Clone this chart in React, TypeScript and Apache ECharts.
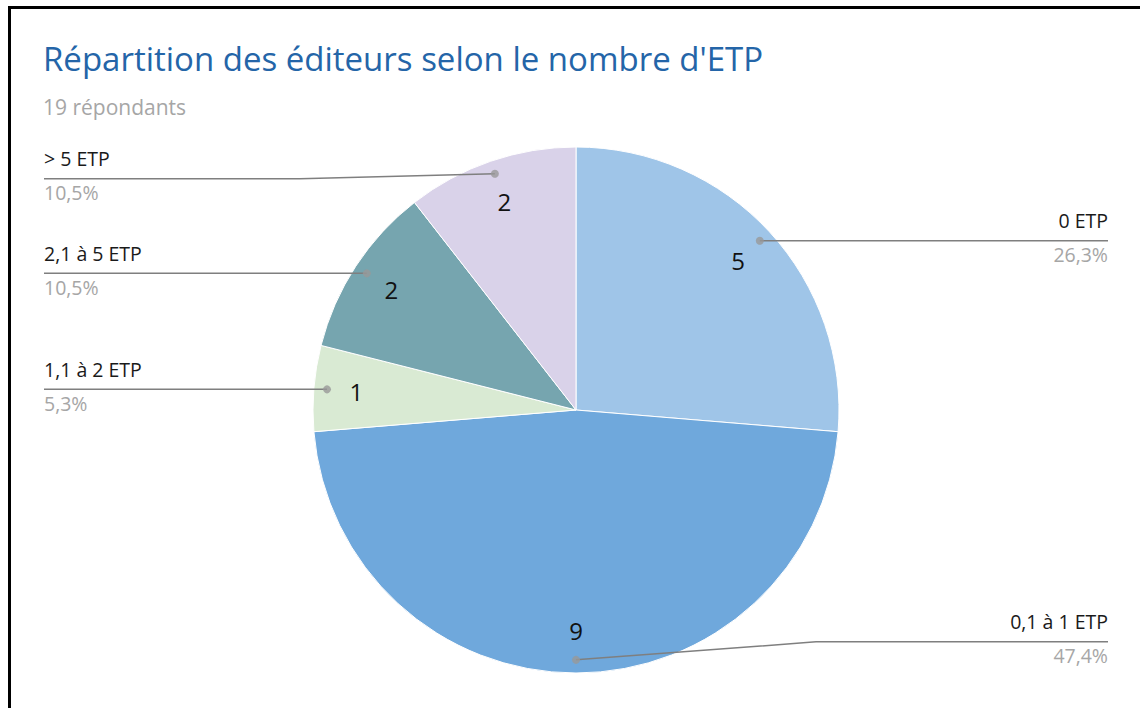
import React, { useEffect, useRef } from 'react';
import * as echarts from 'echarts';

const categories = ['0 ETP', '0,1 à 1 ETP', '1,1 à 2 ETP', '2,1 à 5 ETP', '> 5 ETP'];
const counts = [5, 9, 1, 2, 2];
const colors = ['#9FC5E8', '#6FA8DC', '#D9EAD3', '#76A5AF', '#D9D2E9'];
const titleText = "Répartition des éditeurs selon le nombre d'ETP";
const subtitleText = '19 répondants';

// leader-line placement tweaks (label layout only)
const leaderRise = [0, -18, 0, 0, 5];
const leaderRun = [0, 240, 0, 0, 195];

const W = 1140;
const H = 708;
const CX = 576;
const CY = 410;
const R = 263;
const DOT_RATIO = 0.95;
const LEFT_X = 44;
const RIGHT_X = 1108;
const FONT = "'Open Sans', sans-serif";

export default function App() {
  const ref = useRef<HTMLDivElement>(null);
  useEffect(() => {
    document.body.style.margin = '0';
    const chart = echarts.init(ref.current!, null, { renderer: 'svg' });
    const total = counts.reduce((a, b) => a + b, 0);
    const mids: number[] = [];
    let acc = 0;
    counts.forEach((v) => {
      mids.push(acc + v / 2);
      acc += v;
    });
    const data = categories.map((name, i) => ({ name, value: counts[i], itemStyle: { color: colors[i] } }));
    const ghostData = categories.map((name, i) => ({ name, value: counts[i] }));
    const fmtPct = (p: number) => p.toFixed(1).replace('.', ',') + '%';

    chart.setOption({
      animation: false,
      title: [
        {
          text: titleText,
          left: 38,
          top: 37,
          textStyle: { fontFamily: FONT, fontSize: 33, fontWeight: 'normal', color: '#2465A8' },
        },
        {
          text: subtitleText,
          left: 38,
          top: 91,
          textStyle: { fontFamily: FONT, fontSize: 21, fontWeight: 'normal', color: '#a6a6a6' },
        },
      ],
      graphic: {
        elements: [
          { type: 'rect', shape: { x: 8, y: 6, width: 1132, height: 3 }, style: { fill: '#000' }, silent: true },
          { type: 'rect', shape: { x: 8, y: 6, width: 3, height: 702 }, style: { fill: '#000' }, silent: true },
        ],
      },
      polar: { center: [CX, CY], radius: R },
      angleAxis: { type: 'value', min: 0, max: total, startAngle: 90, clockwise: true, show: false },
      radiusAxis: { type: 'value', min: 0, max: 1, show: false },
      series: [
        {
          type: 'pie',
          center: [CX, CY],
          radius: [0, R],
          startAngle: 90,
          clockwise: true,
          data,
          z: 2,
          silent: true,
          emphasis: { disabled: true },
          itemStyle: { borderColor: '#fff', borderWidth: 1 },
          label: { show: false },
          labelLine: { show: false },
        },
        {
          type: 'pie',
          center: [CX, CY],
          radius: [172, R],
          startAngle: 90,
          clockwise: true,
          silent: true,
          z: 3,
          data: ghostData,
          itemStyle: { color: 'rgba(0,0,0,0)' },
          label: { show: true, position: 'inside', formatter: '{c}', fontFamily: FONT, fontSize: 24, color: '#111' },
          labelLine: { show: false },
        },
        {
          type: 'pie',
          center: [CX, CY],
          radius: [0, R],
          startAngle: 90,
          clockwise: true,
          silent: true,
          z: 4,
          data: ghostData,
          avoidLabelOverlap: false,
          itemStyle: { color: 'rgba(0,0,0,0)' },
          label: {
            show: true,
            position: 'outside',
            fontFamily: FONT,
            padding: [0, 0, 2, 0],
            formatter: (p: any) => `{n|${p.name}}\n{p|${fmtPct(p.percent)}}`,
            rich: {
              n: { fontFamily: FONT, fontSize: 19.5, color: '#1a1a1a', lineHeight: 30 },
              p: { fontFamily: FONT, fontSize: 19.5, color: '#a6a6a6', lineHeight: 38 },
            },
          },
          labelLine: {
            show: true,
            showAbove: true,
            length: 5,
            length2: 5,
            lineStyle: { color: '#7f7f7f', width: 1.5 },
          },
          labelLayout: (p: any) => {
            const pts = p.labelLinePoints;
            if (!pts) return {};
            const s = pts[0];
            const i = p.dataIndex;
            const sx = CX + (s[0] - CX) * DOT_RATIO;
            const sy = CY + (s[1] - CY) * DOT_RATIO;
            const right = sx >= CX - 1;
            const ly = sy + leaderRise[i];
            const ex = right ? RIGHT_X : LEFT_X;
            const kx = sx + (right ? 1 : -1) * leaderRun[i];
            return {
              x: ex,
              y: ly,
              align: right ? 'right' : 'left',
              verticalAlign: 'middle',
              labelLinePoints: [
                [sx, sy],
                [kx, ly],
                [ex, ly],
              ],
            };
          },
        },
        {
          type: 'scatter',
          coordinateSystem: 'polar',
          data: mids.map((m) => [DOT_RATIO, m]),
          symbolSize: 8,
          itemStyle: { color: '#999999' },
          silent: true,
          z: 5,
        },
      ],
    });
    return () => chart.dispose();
  }, []);
  return <div ref={ref} style={{ width: W, height: H }} />;
}
